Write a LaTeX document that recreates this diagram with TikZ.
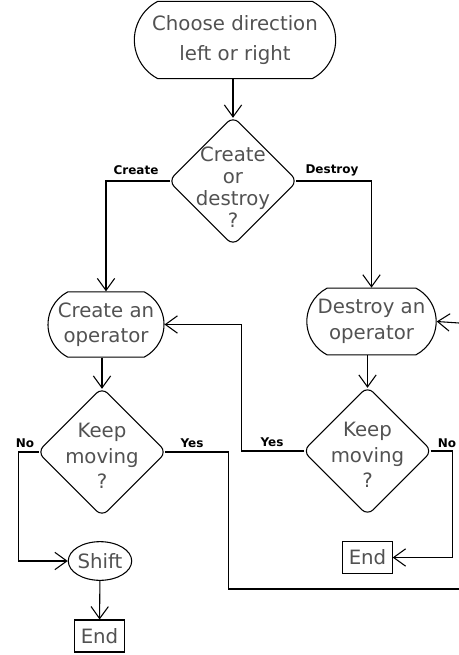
\documentclass[tikz,border=0pt]{standalone}
\usepackage{fontspec}
\setmainfont{DejaVu Sans}
\usepackage{xcolor}
\usepackage{tikz}
\usetikzlibrary{shapes.geometric, shapes.misc, arrows.meta, positioning}

\definecolor{txtfill}{gray}{0.32}

\begin{document}
\begin{tikzpicture}[x=0.75pt, y=-0.75pt, line width=0.8pt,
    every node/.style={align=center},
    arr/.style={-{Straight Barb[length=9pt,width=13pt]}},
    txt/.style={text=txtfill, font=\fontsize{14.8}{19}\selectfont},
    terminal/.style={draw, txt, rounded rectangle, rounded rectangle arc length=125, minimum width=87pt, minimum height=49pt, inner sep=0pt},
    decision/.style={draw, diamond, aspect=1, rounded corners=6pt, minimum width=97pt, minimum height=97pt, inner sep=0pt},
    endbox/.style={draw, txt, minimum width=37pt, minimum height=24pt, inner sep=1pt},
    tag/.style={font=\fontsize{9}{10}\selectfont\bfseries}]
    \useasboundingbox (0,0) rectangle (459,655);
    % Start and first choice
    \node[terminal, minimum width=151pt, minimum height=58pt] (start) at (235,40) {Choose direction\\[3pt]left or right};
    \node[decision] (choice) at (233,181) {};
    \node[txt, font=\fontsize{14.8}{16.5}\selectfont] (choicet) at (233,187) {Create\\or\\destroy\\?};
    \draw[arr, shorten >=-1.5pt] (start.south -| choice.north) -- (choice.north);
    % Two branches
    \node[terminal] (create) at (106,324.5) {Create an\\operator};
    \node[terminal, minimum width=97pt, minimum height=50pt] (destroy) at (371.5,321.5) {Destroy an\\operator};
    \draw[arr, shorten <=-1.5pt] (choice.west) -| (create.north);
    \draw[arr, shorten <=-1.5pt] (choice.east) -| (destroy.north);
    \node[tag] (lcreate) at (136,170) {Create};
    \node[tag] (ldestroy) at (332,170) {Destroy};
    % Keep moving questions
    \node[decision] (keepl) at (102,452) {};
    \node[txt] (keeplt) at (102,456) {Keep\\moving\\?};
    \node[decision] (keepr) at (367.5,451) {};
    \node[txt] (keeprt) at (367.5,455) {Keep\\moving\\?};
    \draw[arr, shorten >=-1.5pt] (create.south -| keepl.north) -- (keepl.north);
    \draw[arr, shorten >=-1.5pt] (destroy.south -| keepr.north) -- (keepr.north);
    % Ends
    \node[draw, ellipse, txt, minimum width=46pt, minimum height=29pt, inner sep=0pt] (shift) at (100,561) {Shift};
    \node[endbox] (endl) at (99.5,636) {End};
    \node[endbox] (endr) at (367.5,557.5) {End};
    \coordinate (exit) at (459,589);
    \coordinate (entry) at (459,323);
    \draw[arr, shorten <=-1.5pt] (keepl.west) -- ++(-18,0) |- (shift.west);
    \draw[shorten <=-1.5pt] (keepl.east) -- ++(61,0) |- (exit);
    \draw[arr] (shift) -- (endl);
    \draw[arr, shorten <=-1.5pt] (keepr.west) -- ++(-61,0) |- (create.east);
    \draw[arr, shorten <=-1.5pt] (keepr.east) -- ++(20,0) |- (endr.east);
    \draw[arr] (entry) -- (destroy.east);
    \node[tag] (nol) at (25,443) {No};
    \node[tag] (yesl) at (192,443) {Yes};
    \node[tag] (yesr) at (272,442) {Yes};
    \node[tag] (nor) at (447,443) {No};
\end{tikzpicture}
\end{document}
